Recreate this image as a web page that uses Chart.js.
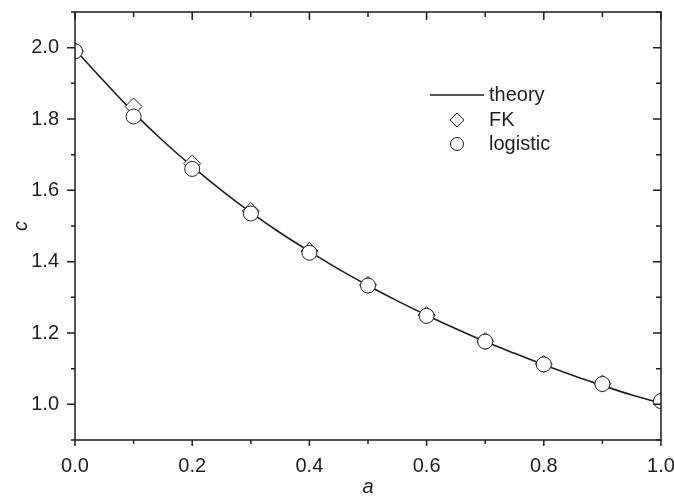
<!DOCTYPE html>
<html>
<head>
<meta charset="utf-8">
<script src="https://cdn.jsdelivr.net/npm/chart.js@4"></script>
<style>
  html, body { margin: 0; padding: 0; background: #fff; }
</style>
</head>
<body>
<canvas id="chart" width="674" height="499"></canvas>
<script>
// theory curve
const aTheory = [0, 0.05, 0.1, 0.15, 0.2, 0.25, 0.3, 0.35, 0.4, 0.45, 0.5, 0.55, 0.6, 0.65, 0.7, 0.75, 0.8, 0.85, 0.9, 0.95, 1.0];
const cTheory = [1.995, 1.905, 1.818, 1.739, 1.667, 1.6, 1.538, 1.481, 1.429, 1.379, 1.333, 1.29, 1.25, 1.212, 1.176, 1.143, 1.111, 1.081, 1.053, 1.026, 1.003];

// simulation points
const aPoints = [0, 0.1, 0.2, 0.3, 0.4, 0.5, 0.6, 0.7, 0.8, 0.9, 1.0];
const cFK = [1.99, 1.835, 1.675, 1.542, 1.43, 1.335, 1.25, 1.177, 1.113, 1.058, 1.01];
const cLogistic = [1.99, 1.807, 1.66, 1.535, 1.425, 1.333, 1.248, 1.176, 1.112, 1.057, 1.009];

const xTickLabels = ['0.0', '0.2', '0.4', '0.6', '0.8', '1.0'];
const yTickLabels = ['1.0', '1.2', '1.4', '1.6', '1.8', '2.0'];

const ink = '#1e1e1e';
const font = 'Liberation Sans, Arial, Helvetica, sans-serif';

const toXY = (xs, ys) => xs.map((x, i) => ({ x: x, y: ys[i] }));
const isMajor = v => Math.round(v * 10) % 2 === 0;

// frame, tick marks and legend drawn over the plot
const framePlugin = {
    id: 'frame',
    afterDraw(chart) {
        const ctx = chart.ctx;
        const { left, right, top, bottom } = chart.chartArea;
        const xs = chart.scales.x, ys = chart.scales.y;
        ctx.save();
        ctx.strokeStyle = ink;
        ctx.lineWidth = 1.5;
        ctx.beginPath();
        ctx.rect(left, top, right - left, bottom - top);
        ctx.stroke();

        ctx.beginPath();
        xs.ticks.forEach(t => {
            const px = xs.getPixelForValue(t.value);
            const out = isMajor(t.value) ? 6 : 4;
            const inn = isMajor(t.value) ? 8 : 5;
            ctx.moveTo(px, bottom); ctx.lineTo(px, bottom + out);
            ctx.moveTo(px, top); ctx.lineTo(px, top + inn);
        });
        ys.ticks.forEach(t => {
            const py = ys.getPixelForValue(t.value);
            const out = isMajor(t.value) ? 8 : 4;
            const inn = isMajor(t.value) ? 8 : 5;
            ctx.moveTo(left - out, py); ctx.lineTo(left, py);
            ctx.moveTo(right - inn, py); ctx.lineTo(right, py);
        });
        ctx.stroke();

        // legend
        const ds = chart.data.datasets;
        ctx.font = '20px ' + font;
        ctx.fillStyle = ink;
        ctx.textBaseline = 'middle';
        ctx.textAlign = 'left';
        const lx = 430, tx = 489;
        const rows = [95, 120, 144];

        ctx.lineWidth = 1.6;
        ctx.beginPath();
        ctx.moveTo(lx, rows[0]); ctx.lineTo(lx + 54, rows[0]);
        ctx.stroke();
        ctx.fillText(ds[0].label, tx, rows[0]);

        ctx.lineWidth = 1;
        ctx.fillStyle = '#fff';
        ctx.beginPath();
        const r = 7, cx = 457;
        ctx.moveTo(cx, rows[1] - r); ctx.lineTo(cx + r, rows[1]);
        ctx.lineTo(cx, rows[1] + r); ctx.lineTo(cx - r, rows[1]);
        ctx.closePath();
        ctx.fill(); ctx.stroke();
        ctx.beginPath();
        ctx.arc(cx, rows[2], 6.5, 0, Math.PI * 2);
        ctx.fill(); ctx.stroke();

        ctx.fillStyle = ink;
        ctx.fillText(ds[1].label, tx, rows[1]);
        ctx.fillText(ds[2].label, tx, rows[2]);
        ctx.restore();
    }
};

new Chart(document.getElementById('chart').getContext('2d'), {
    type: 'scatter',
    data: {
        datasets: [{
            label: 'theory',
            data: toXY(aTheory, cTheory),
            showLine: true,
            borderColor: ink,
            borderWidth: 1.6,
            pointRadius: 0,
            cubicInterpolationMode: 'monotone',
            order: 3
        }, {
            label: 'FK',
            data: toXY(aPoints, cFK),
            pointStyle: 'rectRot',
            pointRadius: 8.5,
            backgroundColor: '#fff',
            borderColor: ink,
            borderWidth: 1,
            order: 2
        }, {
            label: 'logistic',
            data: toXY(aPoints, cLogistic),
            pointStyle: 'circle',
            pointRadius: 7.5,
            backgroundColor: '#fff',
            borderColor: ink,
            borderWidth: 1,
            order: 1
        }]
    },
    options: {
        responsive: false,
        animation: false,
        devicePixelRatio: 1,
        layout: { padding: { left: 0, top: 12, right: 13, bottom: 0 } },
        plugins: {
            legend: { display: false },
            tooltip: { enabled: false }
        },
        scales: {
            x: {
                type: 'linear',
                min: 0,
                max: 1,
                grid: { display: false, drawTicks: false },
                border: { display: false },
                ticks: {
                    stepSize: 0.1,
                    autoSkip: false,
                    maxRotation: 0,
                    padding: 14,
                    color: ink,
                    font: { family: font, size: 20 },
                    callback: v => isMajor(v) ? xTickLabels[Math.round(v * 5)] : ''
                },
                title: {
                    display: true,
                    text: 'a',
                    color: ink,
                    padding: { top: 0, bottom: 0 },
                    font: { family: font, size: 20, style: 'italic' }
                },
                afterFit: s => {
                    s.height = 59;
                    s.paddingLeft = 0;
                    s.paddingRight = 0;
                }
            },
            y: {
                type: 'linear',
                min: 0.9,
                max: 2.1,
                grid: { display: false, drawTicks: false },
                border: { display: false },
                ticks: {
                    stepSize: 0.1,
                    autoSkip: false,
                    padding: 16,
                    color: ink,
                    font: { family: font, size: 20 },
                    callback: v => isMajor(v) ? yTickLabels[Math.round((v - 1) * 5)] : ''
                },
                title: {
                    display: true,
                    text: 'c',
                    color: ink,
                    padding: { top: 9, bottom: 0 },
                    font: { family: font, size: 20, style: 'italic' }
                },
                afterFit: s => {
                    s.width = 75;
                    s.paddingTop = 0;
                    s.paddingBottom = 0;
                }
            }
        }
    },
    plugins: [framePlugin]
});
</script>
</body>
</html>
